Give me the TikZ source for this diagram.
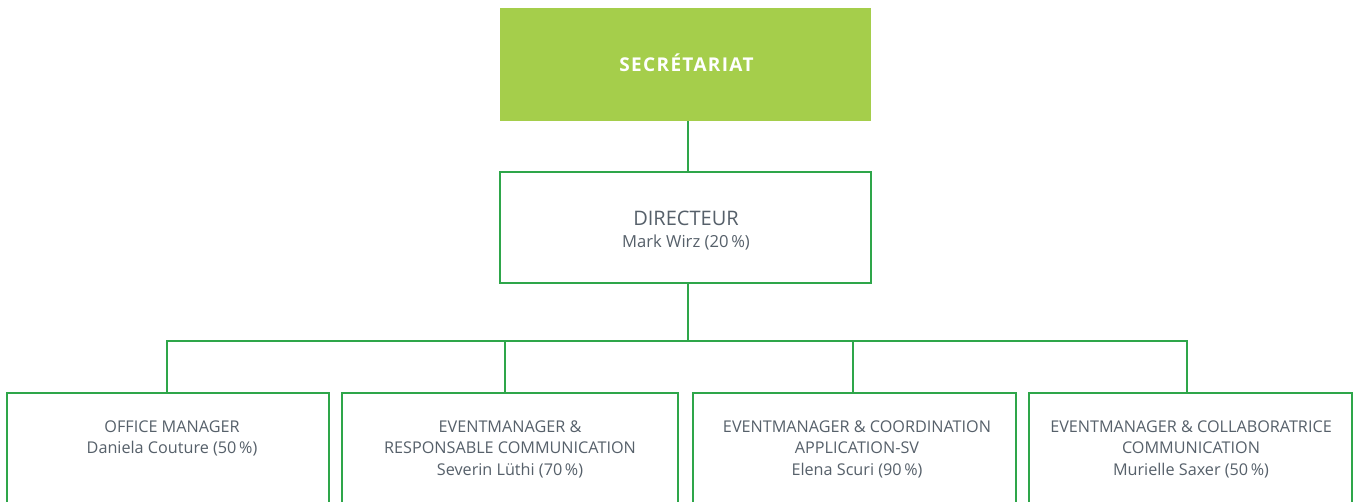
\documentclass[tikz,border=0pt]{standalone}
\usepackage{fontspec}
\setmainfont{Open Sans}
\definecolor{lime}{HTML}{A5CE4B}
\definecolor{lgreen}{HTML}{2EA64A}
\definecolor{txt}{HTML}{56606A}
\begin{document}
\begin{tikzpicture}[x=1pt,y=-1pt,
  box/.style={draw=lgreen, line width=2pt, rectangle, inner sep=0pt},
  link/.style={draw=lgreen, line width=2pt},
  lbl/.style={text=txt, inner sep=0pt, anchor=base, font=\fontsize{16.2}{20}\selectfont},
  dirlbl/.style={lbl, font=\fontsize{20}{24}\selectfont},
  namelbl/.style={lbl, font=\fontsize{16.6}{22}\selectfont}]
\useasboundingbox (0,0) rectangle (1356,502);
\clip (0,0) rectangle (1356,502);
\fill[white] (0,0) rectangle (1356,502);
% top box
\node[fill=lime, inner sep=0pt, minimum width=371pt, minimum height=113pt] (sec) at (685.5,64.5) {};
\node[text=white, inner sep=0pt, anchor=base, font=\fontsize{19}{22}\bfseries\addfontfeatures{LetterSpace=7}] (sect) at (686.5,71.5) {SECRÉTARIAT};
% director
\node[box, minimum width=371pt, minimum height=111pt] (dir) at (685.5,227.5) {};
\node[dirlbl] (dir1) at (686,225.5) {DIRECTEUR};
\node[namelbl] (dir2) at (686,247.5) {Mark Wirz (20\,\%)};
% bottom boxes
\node[box, minimum width=322pt, minimum height=140pt] (b1) at (168,463) {};
\node[box, minimum width=336pt, minimum height=140pt] (b2) at (510,463) {};
\node[box, minimum width=323pt, minimum height=140pt] (b3) at (854.5,463) {};
\node[box, minimum width=323pt, minimum height=140pt] (b4) at (1190.5,463) {};
% texts
\node[lbl] (t11) at (172,432) {OFFICE MANAGER};
\node[lbl] (t12) at (172,453.5) {Daniela Couture (50\,\%)};
\node[lbl] (t21) at (510,432) {EVENTMANAGER \&};
\node[lbl] (t22) at (510,453.5) {RESPONSABLE COMMUNICATION};
\node[lbl] (t23) at (510,475) {Severin Lüthi (70\,\%)};
\node[lbl] (t31) at (857,432) {EVENTMANAGER \& COORDINATION};
\node[lbl] (t32) at (857,453.5) {APPLICATION-SV};
\node[lbl] (t33) at (857,475) {Elena Scuri (90\,\%)};
\node[lbl] (t41) at (1191,432) {EVENTMANAGER \& COLLABORATRICE};
\node[lbl] (t42) at (1191,453.5) {COMMUNICATION};
\node[lbl] (t43) at (1191,475) {Murielle Saxer (50\,\%)};
% connectors
\draw[link] ([xshift=2.5pt]sec.south) -- ([xshift=2.5pt]dir.north);
\draw[link] ([xshift=2.5pt]dir.south) -- ++(0,57) coordinate (bus);
\draw[link] (bus) -| ([xshift=-1pt]b1.north);
\draw[link] (bus) -| ([xshift=-5pt]b2.north);
\draw[link] (bus) -| ([xshift=-1.5pt]b3.north);
\draw[link] (bus) -| ([xshift=-3.5pt]b4.north);
\end{tikzpicture}
\end{document}
